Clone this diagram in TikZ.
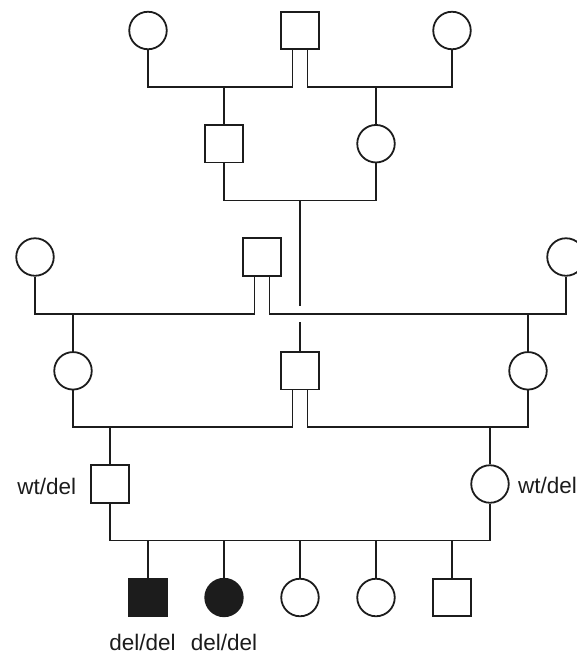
\documentclass[tikz,border=0pt]{standalone}
\usepackage{fontspec}
\setmainfont{Liberation Sans}
\definecolor{ink}{RGB}{28,28,28}
\begin{document}
\begin{tikzpicture}[x=1pt,y=-1pt,
  line width=1.8pt, draw=ink,
  male/.style={draw=ink, rectangle, minimum size=37.5pt, inner sep=0pt, line width=1.8pt},
  female/.style={draw=ink, circle, minimum size=37.5pt, inner sep=0pt, line width=1.8pt},
  affected/.style={fill=ink},
  geno/.style={font=\fontsize{22.5}{24}\selectfont, text=ink, anchor=base, inner sep=0pt},
  link/.style={draw=ink, line width=1.8pt}]
\useasboundingbox (0,0) rectangle (577,657);
% generation 1
\node[female] (c1) at (148,30.5) {};
\node[male]   (s1) at (300,30.5) {};
\node[female] (c2) at (452,30.5) {};
% generation 2
\node[male]   (m2) at (224,143.7) {};
\node[female] (f2) at (376,143.7) {};
% generation 3
\node[female] (c3) at (35,257) {};
\node[male]   (s3) at (262,257) {};
\node[female] (c4) at (566,257) {};
% generation 4
\node[female] (f4)  at (73,370.8) {};
\node[male]   (m4)  at (300,370.8) {};
\node[female] (f4b) at (528,370.8) {};
% generation 5
\node[male]   (m5) at (110,484) {};
\node[female] (f5) at (490,484) {};
% generation 6
\node[male,affected]   (k1) at (148,597.5) {};
\node[female,affected] (k2) at (224,597.5) {};
\node[female] (k3) at (300,597.5) {};
\node[female] (k4) at (376,597.5) {};
\node[male]   (k5) at (452,597.5) {};
% labels
\node[geno] (l1) at (46.7,494) {wt/del};
\node[geno] (l2) at (547.5,493) {wt/del};
\node[geno] (l3) at (142.5,650.7) {del/del};
\node[geno] (l4) at (224,650.7) {del/del};
% helper coordinates
\coordinate (h1) at (0,87);
\coordinate (h2) at (0,200.5);
\coordinate (h3) at (0,314);
\coordinate (h4) at (0,427.3);
\coordinate (h5) at (0,540.5);
\coordinate (d1) at (300,200.5);
\coordinate (d2) at (300,306);
\coordinate (d3) at (300,322);
% gen1 marriages
\draw[link] (c1.south) -- (c1.south |- h1) -- ([xshift=-7.5pt]s1.south |- h1) -- ([xshift=-7.5pt]s1.south);
\draw[link] ([xshift=7.5pt]s1.south) -- ([xshift=7.5pt]s1.south |- h1) -- (c2.south |- h1) -- (c2.south);
\draw[link] (m2.north) -- (m2.north |- h1);
\draw[link] (f2.north) -- (f2.north |- h1);
% gen2 marriage
\draw[link] (m2.south) -- (m2.south |- h2) -- (f2.south |- h2) -- (f2.south);
\draw[link] (d1) -- (d2);
\draw[link] (d3) -- (m4.north);
% gen3 marriages
\draw[link] (c3.south) -- (c3.south |- h3) -- ([xshift=-7.5pt]s3.south |- h3) -- ([xshift=-7.5pt]s3.south);
\draw[link] ([xshift=7.5pt]s3.south) -- ([xshift=7.5pt]s3.south |- h3) -- (c4.south |- h3) -- (c4.south);
\draw[link] (f4.north) -- (f4.north |- h3);
\draw[link] (f4b.north) -- (f4b.north |- h3);
% gen4 marriages
\draw[link] (f4.south) -- (f4.south |- h4) -- ([xshift=-7.5pt]m4.south |- h4) -- ([xshift=-7.5pt]m4.south);
\draw[link] ([xshift=7.5pt]m4.south) -- ([xshift=7.5pt]m4.south |- h4) -- (f4b.south |- h4) -- (f4b.south);
\draw[link] (m5.north) -- (m5.north |- h4);
\draw[link] (f5.north) -- (f5.north |- h4);
% gen5 marriage
\draw[link] (m5.south) -- (m5.south |- h5) -- (f5.south |- h5) -- (f5.south);
\foreach \k in {k1,k2,k3,k4,k5} {
  \draw[link] (\k.north) -- (\k.north |- h5);
}
\end{tikzpicture}
\end{document}
